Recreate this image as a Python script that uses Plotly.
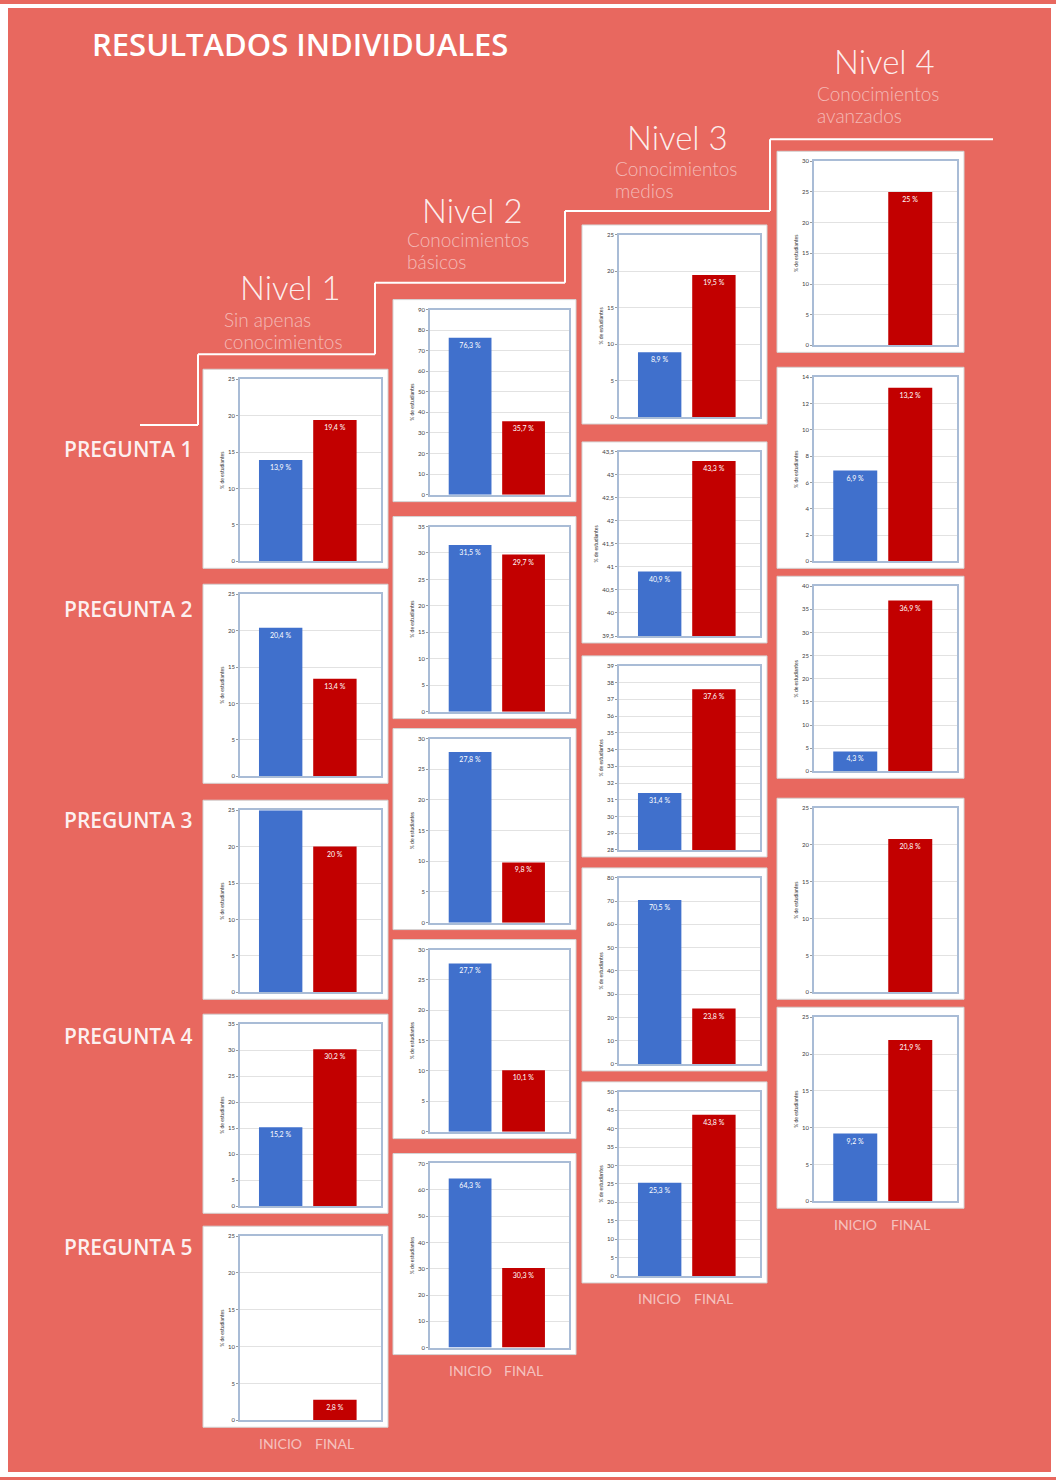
import plotly.graph_objects as go

# ---------------- data ----------------
title_text = "RESULTADOS INDIVIDUALES"
levels = ["Nivel 1", "Nivel 2", "Nivel 3", "Nivel 4"]
level_desc = [["Sin apenas", "conocimientos"], ["Conocimientos", "básicos"],
              ["Conocimientos", "medios"], ["Conocimientos", "avanzados"]]
questions = ["PREGUNTA 1", "PREGUNTA 2", "PREGUNTA 3", "PREGUNTA 4", "PREGUNTA 5"]
categories = ["INICIO", "FINAL"]
y_title = "% de estudiantes"

# % of students per question (P1..P5), for each level
inicio_nivel1 = [13.9, 20.4, 25.0, 15.2, 0.0]
final_nivel1 = [19.4, 13.4, 20.0, 30.2, 2.8]
inicio_nivel2 = [76.3, 31.5, 27.8, 27.7, 64.3]
final_nivel2 = [35.7, 29.7, 9.8, 10.1, 30.3]
inicio_nivel3 = [8.9, 40.9, 31.4, 70.5, 25.3]
final_nivel3 = [19.5, 43.3, 37.6, 23.8, 43.8]
inicio_nivel4 = [0.0, 6.9, 4.3, 0.0, 9.2]
final_nivel4 = [25.0, 13.2, 36.9, 20.8, 21.9]

# y-axis scale (min, max, step) of every small chart
escala_nivel1 = [(0, 25, 5), (0, 25, 5), (0, 25, 5), (0, 35, 5), (0, 25, 5)]
escala_nivel2 = [(0, 90, 10), (0, 35, 5), (0, 30, 5), (0, 30, 5), (0, 70, 10)]
escala_nivel3 = [(0, 25, 5), (39.5, 43.5, 0.5), (28, 39, 1), (0, 80, 10), (0, 50, 5)]
escala_nivel4 = [(0, 30, 5), (0, 14, 2), (0, 40, 5), (0, 25, 5), (0, 25, 5)]

inicio = [inicio_nivel1, inicio_nivel2, inicio_nivel3, inicio_nivel4]
final = [final_nivel1, final_nivel2, final_nivel3, final_nivel4]
escalas = [escala_nivel1, escala_nivel2, escala_nivel3, escala_nivel4]

# ---------------- layout helpers ----------------
W, H = 1056, 1480
CORAL = "#E8685F"
BLUE = "#4070CC"
RED = "#C20000"
AXC = "#A9BCD6"
FONT = "Lato"


def px(x):
    return x / W


def py(y):
    return 1 - y / H


col_x = [(203, 388), (393, 576), (582, 767), (777, 964)]
card_rows = [
    [(367, 567), (583, 783), (800, 1000), (1015, 1215), (1228, 1430)],
    [(297, 500), (515, 718), (728, 930), (940, 1140), (1155, 1357)],
    [(222, 422), (440, 642), (655, 857), (868, 1072), (1083, 1285)],
    [(148, 350), (365, 567), (575, 778), (798, 1000), (1008, 1210)],
]

fig = go.Figure()
shapes = []
annotations = []
layout_axes = {}

# white borders of the page
for (a, b, c, d) in [(0, 0, 8, H), (1051, 0, W, H), (0, 1475, W, H), (0, 0, W, 4)]:
    shapes.append(dict(type="rect", xref="paper", yref="paper", x0=px(a), x1=px(c),
                       y0=py(d), y1=py(b), fillcolor="white", line_width=0, layer="below"))

# staircase line
stair = [(140, 423), (198, 423), (198, 352), (375, 352), (375, 280), (565, 280),
         (565, 208), (770, 208), (770, 136), (993, 136)]
for (xa, ya), (xb, yb) in zip(stair[:-1], stair[1:]):
    shapes.append(dict(type="line", xref="paper", yref="paper", x0=px(xa), y0=py(ya),
                       x1=px(xb), y1=py(yb), line=dict(color="white", width=2), layer="below"))

n = 0
for li in range(4):
    for qi in range(5):
        n += 1
        sfx = "" if n == 1 else str(n)
        x0c, x1c = col_x[li]
        y0c, y1c = card_rows[li][qi]
        shapes.append(dict(type="rect", xref="paper", yref="paper",
                           x0=px(x0c), x1=px(x1c), y0=py(y1c), y1=py(y0c),
                           fillcolor="white", line=dict(color="#D4D4D4", width=1),
                           layer="below"))
        lo, hi, step = escalas[li][qi]
        vals = [inicio[li][qi], final[li][qi]]
        text = ["" if (v <= lo or v >= hi) else f"{v:g}".replace(".", ",") + " %" for v in vals]
        fig.add_trace(go.Bar(
            x=categories, y=vals, xaxis="x" + sfx, yaxis="y" + sfx,
            marker=dict(color=[BLUE, RED], line=dict(width=0)), width=0.8,
            text=text, textposition="inside", insidetextanchor="end",
            textfont=dict(size=7, color="white", family=FONT), textangle=0,
            hoverinfo="skip", showlegend=False))
        layout_axes["xaxis" + sfx] = dict(
            domain=[px(x0c + 37), px(x1c - 7)], anchor="y" + sfx,
            range=[-0.75, 1.85], showticklabels=False, ticks="", showgrid=False,
            zeroline=False, showline=True, mirror=True, linecolor=AXC, linewidth=1.5,
            fixedrange=True)
        layout_axes["yaxis" + sfx] = dict(
            domain=[py(y1c - 7), py(y0c + 10)], anchor="x" + sfx,
            range=[lo, hi], tick0=lo, dtick=step, showgrid=True, gridcolor="#E2E2E2",
            gridwidth=0.6, zeroline=False, showline=True, mirror=True, linecolor=AXC,
            linewidth=1.5, tickfont=dict(size=6, color="#404040", family=FONT),
            ticks="outside", ticklen=2, tickcolor="#999999",
            title=dict(text=y_title, font=dict(size=5, color="#333333", family=FONT), standoff=3),
            fixedrange=True)
        if qi == 4:
            y_lab = y1c + 16
            for cat in categories:
                annotations.append(dict(text=cat, xref="x" + sfx, yref="paper", x=cat,
                                        y=py(y_lab), showarrow=False, xanchor="center",
                                        yanchor="middle",
                                        font=dict(size=14, color="rgba(255,255,255,0.6)",
                                                  family=FONT)))

# title
annotations.append(dict(text=title_text, xref="paper", yref="paper", x=px(90), y=py(40),
                        xanchor="left", yanchor="middle", showarrow=False,
                        font=dict(size=31, color="white", family="Open Sans", weight=600)))

# level headings
level_cx = [290, 472, 677, 884]
level_cy = [284, 207, 134, 57]
desc_x = [222, 405, 613, 815]
desc_y = [317, 237, 165, 90]
for i in range(4):
    annotations.append(dict(text=levels[i], xref="paper", yref="paper", x=px(level_cx[i]),
                            y=py(level_cy[i]), xanchor="center", yanchor="middle",
                            showarrow=False,
                            font=dict(size=33, color="rgba(255,255,255,0.9)", family=FONT,
                                      weight=300)))
    for k, line in enumerate(level_desc[i]):
        annotations.append(dict(text=line, xref="paper", yref="paper", x=px(desc_x[i]),
                                y=py(desc_y[i] + 22 * k), xanchor="left", yanchor="middle",
                                showarrow=False,
                                font=dict(size=19, color="rgba(255,255,255,0.55)", family=FONT,
                                          weight=300)))

# question labels
q_y = [447, 608, 820, 1037, 1249]
for q, yy in zip(questions, q_y):
    annotations.append(dict(text=q, xref="paper", yref="paper", x=px(62), y=py(yy),
                            xanchor="left", yanchor="middle", showarrow=False,
                            font=dict(size=21, color="rgba(255,255,255,0.92)",
                                      family="Open Sans", weight=600)))

fig.update_layout(
    width=W, height=H, margin=dict(l=0, r=0, t=0, b=0),
    paper_bgcolor=CORAL, plot_bgcolor="white", showlegend=False,
    separators=",.", bargap=0.2,
    shapes=shapes, annotations=annotations, **layout_axes)

fig.write_html("out.html", config={"displayModeBar": False},
               post_script="document.body.style.margin='0';")
